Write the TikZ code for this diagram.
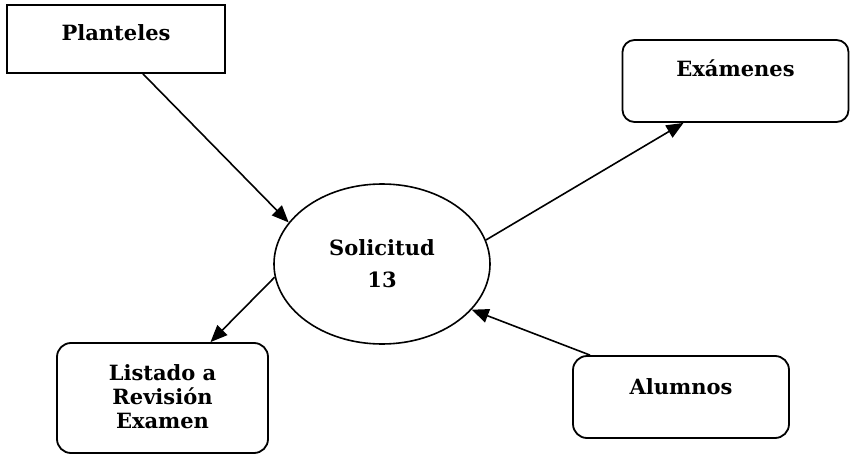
\documentclass[tikz,border=0pt]{standalone}
\usepackage{fontspec}
\setmainfont{DejaVu Serif}
\usetikzlibrary{arrows.meta,shapes.geometric}
\begin{document}
\begin{tikzpicture}[x=1pt,y=-1pt,
  entity/.style={draw,line width=1.8pt,minimum width=#1,inner sep=0pt},
  label/.style={font=\fontsize{21}{24}\selectfont\bfseries,align=center,inner sep=0pt},
  flow/.style={line width=1.6pt,-{Triangle[length=17pt,width=14pt]}}]
  \useasboundingbox (0,0) rectangle (850,454);
  % stores around the central process
  \node[entity=218pt,minimum height=68pt] (pl) at (116,39) {};
  \node[label] (plt) at (116,33) {Planteles};
  \node[entity=226pt,minimum height=82pt,rounded corners=12pt] (ex) at (735.5,81) {};
  \node[label] (ext) at (735.5,68) {Exámenes};
  \node[entity=211pt,minimum height=110pt,rounded corners=14pt] (li) at (162.5,398) {};
  \node[label] (lit) at (162.5,397) {Listado a\\Revisión\\Examen};
  \node[entity=216pt,minimum height=82pt,rounded corners=14pt] (al) at (681,397) {};
  \node[label] (alt) at (681,387) {Alumnos};
  % central process
  \node[ellipse,draw,line width=1.6pt,minimum width=216pt,minimum height=160pt,
        inner sep=0pt,align=center,font=\fontsize{21}{32}\selectfont\bfseries]
        (so) at (382,264) {Solicitud\\13};
  % data flows
  \draw[flow] ([xshift=27pt]pl.south) -- (so.156);
  \draw[flow] (so.13) -- ([xshift=-52pt]ex.south);
  \draw[flow] (so.187) -- ([xshift=48pt]li.north);
  \draw[flow] ([xshift=-91pt]al.north) -- (so.-27);
\end{tikzpicture}
\end{document}
